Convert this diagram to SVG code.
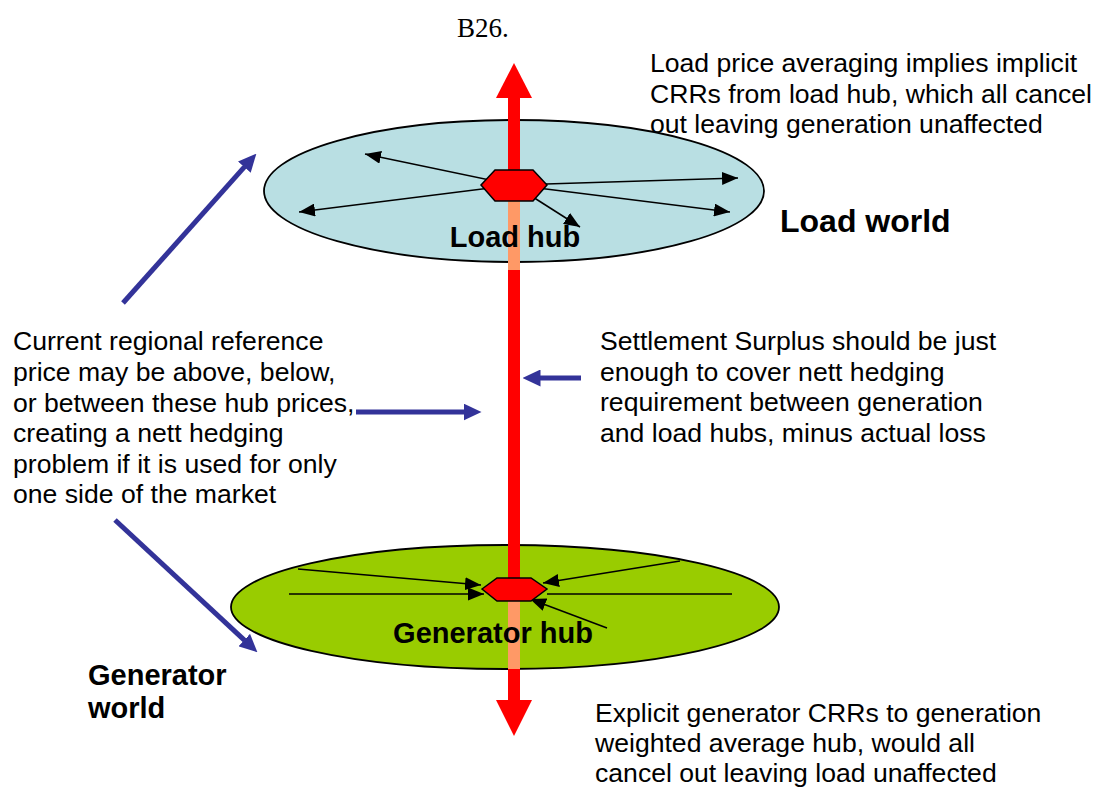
<svg xmlns="http://www.w3.org/2000/svg" width="1096" height="796" viewBox="0 0 1096 796">
<style>
.t{font-family:"Liberation Sans",Arial,sans-serif;font-size:26.6px;fill:#000}
.b{font-family:"Liberation Sans",Arial,sans-serif;font-weight:bold;font-size:29px;fill:#000}
.ser{font-family:"Liberation Serif","Times New Roman",serif;font-size:27px;fill:#000}
.blk{stroke:#000;stroke-width:1.5;fill:none}
.blue{stroke:#333399;stroke-width:5;fill:none}
.ell{stroke:#000;stroke-width:1.8}
.hex{fill:#FF0000;stroke:#000;stroke-width:1.5}
</style>
<defs>
<marker id="ah" viewBox="0 0 16 13" markerWidth="16" markerHeight="13" refX="16" refY="6.5" orient="auto" markerUnits="userSpaceOnUse">
<path d="M0,0 L16,6.5 L0,13 z" fill="#000"/>
</marker>
<marker id="bh" viewBox="0 0 18 17" markerWidth="18" markerHeight="17" refX="0.5" refY="8.5" orient="auto" markerUnits="userSpaceOnUse">
<path d="M0,0 L18,8.5 L0,17 z" fill="#333399"/>
</marker>
</defs>
<rect width="1096" height="796" fill="#fff"/>

<text class="ser" x="457" y="37">B26.</text>

<g id="load-world">
<ellipse class="ell" cx="514" cy="191" rx="250" ry="71" fill="#B9DFE3"/>
</g>
<g id="generator-world">
<ellipse class="ell" cx="505" cy="607" rx="274" ry="62" fill="#99CC00"/>
</g>

<g id="connectors">
<g id="load-crrs">
<line class="blk" x1="514" y1="185" x2="365" y2="154" marker-end="url(#ah)"/>
<line class="blk" x1="514" y1="185" x2="299" y2="212" marker-end="url(#ah)"/>
<line class="blk" x1="514" y1="185" x2="738" y2="178" marker-end="url(#ah)"/>
<line class="blk" x1="514" y1="185" x2="730" y2="212" marker-end="url(#ah)"/>
<line class="blk" x1="514" y1="185" x2="580" y2="227" marker-end="url(#ah)"/>
</g>
<g id="generator-crrs">
<line class="blk" x1="298" y1="569" x2="481" y2="585" marker-end="url(#ah)"/>
<line class="blk" x1="289" y1="594" x2="484" y2="594" marker-end="url(#ah)"/>
<line class="blk" x1="680" y1="561" x2="543" y2="583" marker-end="url(#ah)"/>
<line class="blk" x1="732" y1="594" x2="547" y2="594"/>
<line class="blk" x1="607" y1="628" x2="530" y2="599" marker-end="url(#ah)"/>
</g>
<g id="price-axis">
<rect x="508" y="97" width="12" height="604" fill="#FF0000"/>
<rect x="508" y="200" width="12" height="70" fill="#FF9966"/>
<rect x="508" y="601" width="12" height="68" fill="#FF9966"/>
<polygon points="514,63 532,98 496,98" fill="#FF0000"/>
<polygon points="496,700 532,700 514,736" fill="#FF0000"/>
</g>
<g id="blue-pointers">
<line class="blue" x1="123" y1="303" x2="244.7" y2="166.7" marker-end="url(#bh)"/>
<line class="blue" x1="115" y1="520" x2="244.6" y2="640.4" marker-end="url(#bh)"/>
<line class="blue" x1="356" y1="412" x2="464" y2="412" marker-end="url(#bh)"/>
<line class="blue" x1="581" y1="378" x2="540" y2="378" marker-end="url(#bh)"/>
</g>
</g>

<g id="load-hub">
<polygon class="hex" points="481,185 495,170 533,170 547,185 533,201 495,201"/>
<text class="b" x="515" y="247" text-anchor="middle">Load hub</text>
</g>
<g id="generator-hub">
<polygon class="hex" points="482,589 497,578 531,578 547,589 531,601 497,601"/>
<text class="b" x="493" y="643" text-anchor="middle">Generator hub</text>
</g>

<g id="load-world-label">
<text class="b" x="780" y="232" style="font-size:32px">Load world</text>
</g>
<g id="generator-world-label">
<text class="b" x="88" y="685">Generator</text>
<text class="b" x="88" y="718">world</text>
</g>

<g id="note-load">
<text class="t" x="650" y="72">Load price averaging implies implicit</text>
<text class="t" x="650" y="103">CRRs from load hub, which all cancel</text>
<text class="t" x="650" y="133">out leaving generation unaffected</text>
</g>
<g id="note-reference">
<text class="t" x="13" y="350">Current regional reference</text>
<text class="t" x="13" y="381">price may be above, below,</text>
<text class="t" x="13" y="412">or between these hub prices,</text>
<text class="t" x="13" y="442">creating a nett hedging</text>
<text class="t" x="13" y="473">problem if it is used for only</text>
<text class="t" x="13" y="503">one side of the market</text>
</g>
<g id="note-surplus">
<text class="t" x="600" y="350">Settlement Surplus should be just</text>
<text class="t" x="600" y="381">enough to cover nett hedging</text>
<text class="t" x="600" y="411">requirement between generation</text>
<text class="t" x="600" y="442">and load hubs, minus actual loss</text>
</g>
<g id="note-generator">
<text class="t" x="595" y="722">Explicit generator CRRs to generation</text>
<text class="t" x="595" y="752">weighted average hub, would all</text>
<text class="t" x="595" y="782">cancel out leaving load unaffected</text>
</g>
</svg>
